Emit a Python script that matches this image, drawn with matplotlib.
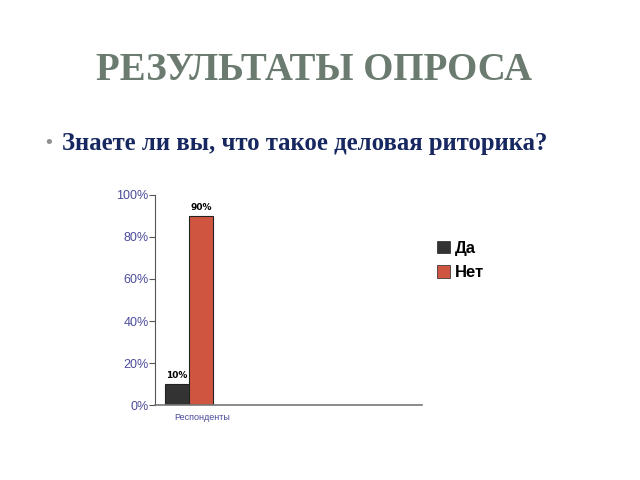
import matplotlib.pyplot as plt
from matplotlib.patches import Patch
from matplotlib.ticker import FuncFormatter, MultipleLocator
from matplotlib.transforms import ScaledTranslation

title = 'РЕЗУЛЬТАТЫ ОПРОСА'
question = 'Знаете ли вы, что такое деловая риторика?'
categories = ['Респонденты']
series_names = ['Да', 'Нет']
series_values = [[10], [90]]
series_colors = ['#333333', '#cf5540']


def plot_survey(save_to_file='out.png'):
    fig = plt.figure(figsize=(6.4, 4.8), dpi=100)

    fig.text(0.49, 0.853, title, ha='center', va='center', fontsize=28,
             fontweight='bold', family='Liberation Serif', color='#6b7b6f')
    fig.text(0.068, 0.703, '•', ha='left', va='center', fontsize=13,
             color='#909090', family='DejaVu Sans')
    fig.text(0.097, 0.702, question, ha='left', va='center', fontsize=17.8,
             fontweight='bold', family='Liberation Serif', color='#17275f')

    ax = fig.add_axes([0.242, 0.156, 0.417, 0.438])
    width = 0.35
    for i, (name, values) in enumerate(zip(series_names, series_values)):
        xs = [c + (i - 0.5) * width for c in range(len(categories))]
        bars = ax.bar(xs, values, width, color=series_colors[i],
                      edgecolor='#222222', linewidth=0.8, label=name)
        for b, v in zip(bars, values):
            ax.text(b.get_x() + b.get_width() / 2, v + 2, f'{v}%',
                    ha='center', va='bottom', fontsize=6.5, fontweight='bold')

    ax.set_xlim(-0.496, 3.394)
    ax.set_ylim(0, 100)
    ax.set_xticks(range(len(categories)))
    ax.set_xticklabels(categories, fontsize=6.5, color='#4b4b9b',
                       family='Liberation Sans')
    ax.tick_params(axis='x', length=0, pad=6)
    shift = ScaledTranslation(13 / 100, 0, fig.dpi_scale_trans)
    for lbl in ax.get_xticklabels():
        lbl.set_transform(lbl.get_transform() + shift)
    ax.yaxis.set_major_locator(MultipleLocator(20))
    ax.yaxis.set_major_formatter(FuncFormatter(lambda v, p: f'{v:.0f}%'))
    ax.tick_params(axis='y', labelsize=9, labelcolor='#4b4b9b',
                   length=4, color='#555555', width=0.8, pad=0.5)
    for lbl in ax.get_yticklabels():
        lbl.set_family('Liberation Sans')
    ax.spines['top'].set_visible(False)
    ax.spines['right'].set_visible(False)
    ax.spines['left'].set_color('#555555')
    ax.spines['bottom'].set_color('#777777')
    ax.spines['bottom'].set_linewidth(1.2)

    handles = [Patch(facecolor=c, edgecolor='#222222', linewidth=0.5)
               for c in series_colors]
    fig.legend(handles, series_names, loc='upper left',
               bbox_to_anchor=(0.66, 0.53), frameon=False,
               prop={'size': 12, 'weight': 'bold', 'family': 'Liberation Sans'},
               handlelength=0.75, handleheight=0.8, handletextpad=0.3,
               labelspacing=0.55)

    fig.savefig(save_to_file, dpi=100)


if __name__ == '__main__':
    plot_survey()
